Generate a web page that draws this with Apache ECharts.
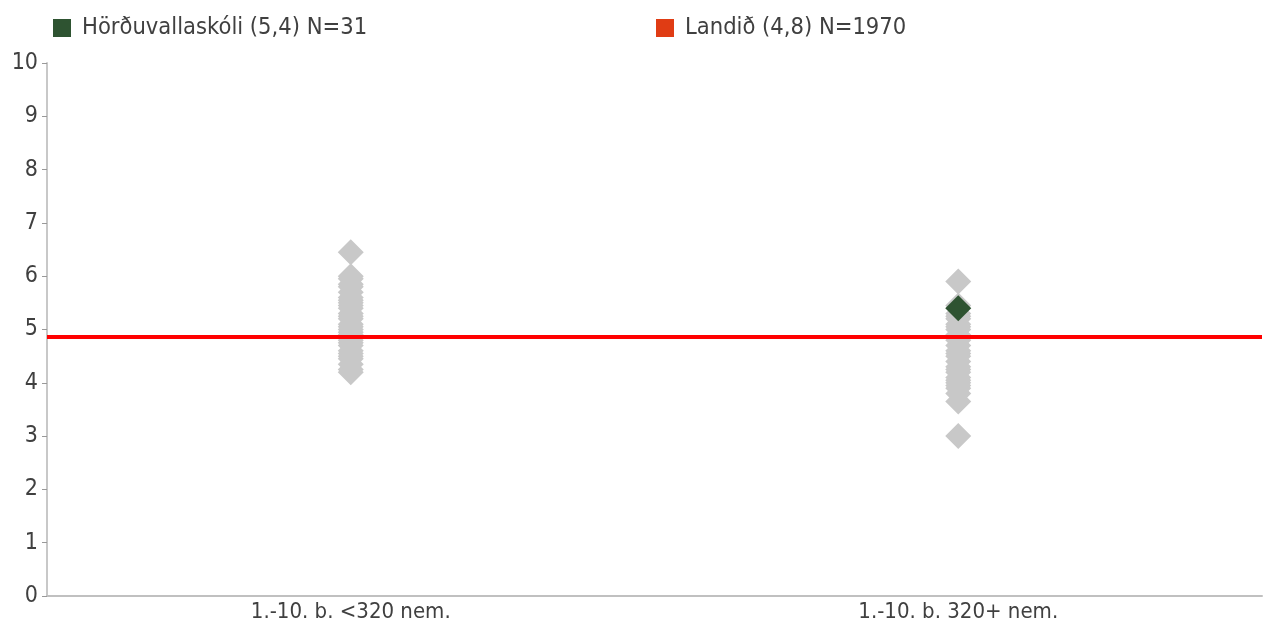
<!DOCTYPE html>
<html>
<head>
<meta charset="utf-8">
<script src="https://cdn.jsdelivr.net/npm/echarts@6/dist/echarts.min.js"></script>
<style>
  html, body { margin: 0; padding: 0; background: #fff; }
  #chart { width: 1269px; height: 625px; }
</style>
</head>
<body>
<div id="chart"></div>
<script>
const categories = ['1.-10. b. <320 nem.', '1.-10. b. 320+ nem.']
const yTicks = [0, 1, 2, 3, 4, 5, 6, 7, 8, 9, 10]

// aðrir skólar í hvorum flokki
const smallSchools = [6.45, 6.0, 5.95, 5.85, 5.8, 5.7, 5.6, 5.55, 5.5, 5.45, 5.4, 5.3, 5.25, 5.2, 5.1,
  5.05, 5.0, 4.95, 4.9, 4.85, 4.8, 4.75, 4.7, 4.6, 4.55, 4.5, 4.45, 4.35, 4.25, 4.2]
const largeSchools = [5.9, 5.45, 5.3, 5.25, 5.2, 5.1, 5.05, 5.0, 4.9, 4.85, 4.8, 4.7, 4.6, 4.55, 4.5,
  4.4, 4.3, 4.25, 4.2, 4.1, 4.05, 4.0, 3.95, 3.9, 3.8, 3.65, 3.0]

const schoolName = 'Hörðuvallaskóli (5,4) N=31'
const schoolCategory = 1
const schoolValue = 5.4

const countryName = 'Landið (4,8) N=1970'
const countryValue = 4.87

const font = '"DejaVu Sans Condensed", "Liberation Sans Narrow", sans-serif'
const textColor = '#404040'

const chart = echarts.init(document.getElementById('chart'))

const otherData = [
  ...smallSchools.map(v => [0, v]),
  ...largeSchools.map(v => [1, v])
]

const legendText = { fontSize: 23.5, color: textColor, fontFamily: font, padding: [0, 0, 0, 6] }

const option = {
  animation: false,
  backgroundColor: '#fff',
  textStyle: { fontFamily: font },
  legend: [
    {
      left: 48, top: 11,
      itemWidth: 18, itemHeight: 18,
      icon: 'rect',
      textStyle: legendText,
      data: [{ name: schoolName, itemStyle: { color: '#2e5331', opacity: 1 } }]
    },
    {
      left: 651, top: 11,
      itemWidth: 18, itemHeight: 18,
      icon: 'rect',
      textStyle: legendText,
      data: [{ name: countryName, itemStyle: { color: '#e03c14', opacity: 1 } }]
    }
  ],
  grid: { left: 47, right: 7, top: 63, bottom: 29 },
  xAxis: {
    type: 'category',
    data: categories,
    axisLine: { lineStyle: { color: '#c0c0c0', width: 2 } },
    axisTick: { show: false },
    axisLabel: { color: textColor, fontSize: 22, margin: 5, fontFamily: font }
  },
  yAxis: {
    type: 'value',
    min: yTicks[0],
    max: yTicks[yTicks.length - 1],
    interval: 1,
    axisLine: { show: true, lineStyle: { color: '#c8c8c8', width: 2 } },
    axisTick: { show: true, length: 5, lineStyle: { color: '#999' } },
    axisLabel: { color: textColor, fontSize: 23, margin: 9, fontFamily: font },
    splitLine: { show: false }
  },
  series: [
    {
      name: 'others',
      type: 'scatter',
      symbol: 'diamond',
      symbolSize: 26,
      itemStyle: { color: '#c8c8c8', opacity: 1 },
      data: otherData,
      z: 2
    },
    {
      name: countryName,
      type: 'line',
      data: [],
      itemStyle: { color: '#e03c14' },
      markLine: {
        silent: true,
        symbol: 'none',
        label: { show: false },
        lineStyle: { color: '#ff0000', width: 4, type: 'solid' },
        data: [{ yAxis: countryValue }]
      },
      z: 3
    },
    {
      name: schoolName,
      type: 'scatter',
      symbol: 'diamond',
      symbolSize: 26,
      itemStyle: { color: '#2e5331', opacity: 1 },
      data: [[schoolCategory, schoolValue]],
      z: 5
    }
  ]
}

chart.setOption(option)
</script>
</body>
</html>
